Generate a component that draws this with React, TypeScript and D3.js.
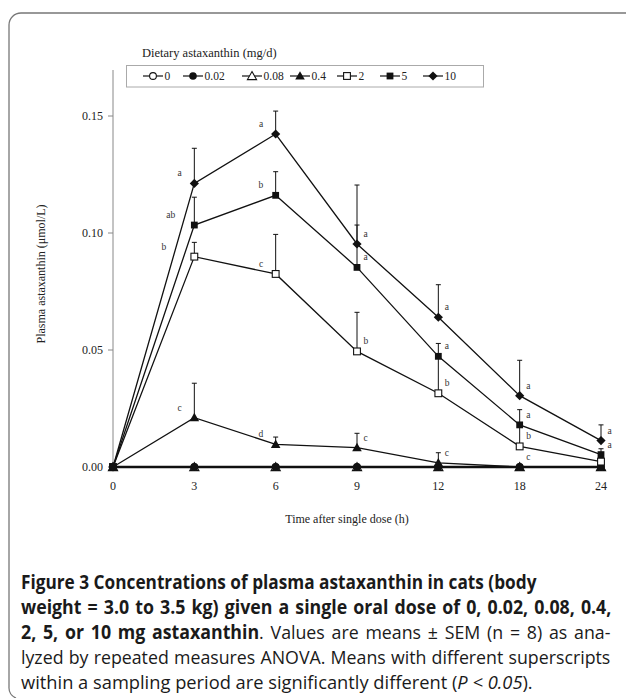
import React, { useMemo } from 'react';
import * as d3 from 'd3';

// ---------- data ----------
const timeLabels = ["0", "3", "6", "9", "12", "18", "24"];
const yTicks = [0, 0.05, 0.10, 0.15];
const doseLabels = ["0", "0.02", "0.08", "0.4", "2", "5", "10"];

const dose0 = [0, 0, 0, 0, 0, 0, 0];
const dose002 = [0, 0, 0, 0, 0, 0, 0];
const dose008 = [0, 0, 0, 0, 0, 0, 0];
const dose04 = [0, 0.0211, 0.0097, 0.0083, 0.0018, 0, 0];
const dose2 = [0, 0.0899, 0.0825, 0.0494, 0.0315, 0.0088, 0.0023];
const dose5 = [0, 0.1034, 0.1161, 0.0853, 0.0473, 0.0180, 0.0053];
const dose10 = [0, 0.1212, 0.1423, 0.0953, 0.0640, 0.0305, 0.0113];

const sem0 = [0, 0, 0, 0, 0, 0, 0];
const sem04 = [0, 0.0147, 0.0031, 0.0061, 0.0043, 0, 0];
const sem2 = [0, 0.0061, 0.0169, 0.0167, 0.0170, 0.0095, 0.0010];
const sem5 = [0, 0.0119, 0.0101, 0.0181, 0.0055, 0.0065, 0.0025];
const sem10 = [0, 0.0150, 0.0098, 0.0252, 0.0139, 0.0151, 0.0067];

const letters0 = ["", "", "", "", "", "", ""];
const letters04 = ["", "c", "d", "c", "c", "c", ""];
const letters2 = ["", "b", "c", "b", "b", "b", ""];
const letters5 = ["", "ab", "b", "a", "a", "a", "a"];
const letters10 = ["", "a", "a", "a", "a", "a", "a"];

// caption lines: segments of [text, style]
type Seg = [string, 'b' | 'r' | 'i'];
const captionLines: Seg[][] = [
  [["Figure 3 Concentrations of plasma astaxanthin in cats (body", 'b']],
  [["weight = 3.0 to 3.5 kg) given a single oral dose of 0, 0.02, 0.08, 0.4,", 'b']],
  [["2, 5, or 10 mg astaxanthin", 'b'], [". Values are means \u00b1 SEM (n = 8) as ana-", 'r']],
  [["lyzed by repeated measures ANOVA. Means with different superscripts", 'r']],
  [["within a sampling period are significantly different (", 'r'], ["P < 0.05", 'i'], [").", 'r']],
];

type Shape = 'circleOpen' | 'circle' | 'triOpen' | 'tri' | 'sqOpen' | 'sq' | 'diamond';

const series: { label: string; values: number[]; sem: number[]; letters: string[]; shape: Shape }[] = [
  { label: doseLabels[2], values: dose008, sem: sem0, letters: letters0, shape: 'triOpen' },
  { label: doseLabels[3], values: dose04, sem: sem04, letters: letters04, shape: 'tri' },
  { label: doseLabels[0], values: dose0, sem: sem0, letters: letters0, shape: 'circleOpen' },
  { label: doseLabels[1], values: dose002, sem: sem0, letters: letters0, shape: 'circle' },
  { label: doseLabels[4], values: dose2, sem: sem2, letters: letters2, shape: 'sqOpen' },
  { label: doseLabels[5], values: dose5, sem: sem5, letters: letters5, shape: 'sq' },
  { label: doseLabels[6], values: dose10, sem: sem10, letters: letters10, shape: 'diamond' },
];

const legendShapes: Shape[] = ['circleOpen', 'circle', 'triOpen', 'tri', 'sqOpen', 'sq', 'diamond'];

// ---------- layout ----------
const W = 628, H = 698;
const x = d3.scalePoint<string>().domain(timeLabels).range([113, 601]);
const y = d3.scaleLinear().domain([0, 0.17]).range([467, 69.2]);

const serif = "'Liberation Serif', 'Times New Roman', serif";
const sansName = "'Open Sans'";
const sans = "'Open Sans', 'Noto Sans', sans-serif";
const CAP_SIZE = 19;

function Marker({ shape, cx, cy }: { shape: Shape; cx: number; cy: number }) {
  const stroke = '#111';
  switch (shape) {
    case 'circleOpen':
      return <circle cx={cx} cy={cy} r={3.4} fill="#fff" stroke={stroke} strokeWidth={1.1} />;
    case 'circle':
      return <circle cx={cx} cy={cy} r={3.8} fill={stroke} />;
    case 'triOpen':
      return <path d={`M${cx},${cy - 4.5}L${cx + 4.6},${cy + 3.6}L${cx - 4.6},${cy + 3.6}Z`} fill="#fff" stroke={stroke} strokeWidth={1.1} />;
    case 'tri':
      return <path d={`M${cx},${cy - 4.8}L${cx + 4.8},${cy + 3.6}L${cx - 4.8},${cy + 3.6}Z`} fill={stroke} />;
    case 'sqOpen':
      return <rect x={cx - 3.4} y={cy - 3.4} width={6.8} height={6.8} fill="#fff" stroke={stroke} strokeWidth={1.1} />;
    case 'sq':
      return <rect x={cx - 3.4} y={cy - 3.4} width={6.8} height={6.8} fill={stroke} />;
    case 'diamond':
      return <path d={`M${cx},${cy - 4.6}L${cx + 4.6},${cy}L${cx},${cy + 4.6}L${cx - 4.6},${cy}Z`} fill={stroke} />;
  }
}

// place a left-side letter clear of other series' incoming segments
function leftLabelEnd(si: number, i: number, ly: number, px: number): number {
  const xs: number[] = [];
  const x0 = x(timeLabels[i - 1]) as number;
  series.forEach((s, k) => {
    if (k === si) return;
    const ya = y(s.values[i - 1]);
    const yb = y(s.values[i]);
    if ((ly - ya) * (ly - yb) < 0) {
      const cx = x0 + (px - x0) * (ly - ya) / (yb - ya);
      if (cx > px - 40 && cx < px - 1) xs.push(cx);
    }
  });
  return xs.length ? Math.min(...xs) - 10 : px - 12.5;
}

const CAP_X = 21;
const capEnds = [537, 612, 611, 611, 533];
const capJustify = [false, true, true, true, false];
const capY = [589, 614, 639, 664, 689];

function fontFor(st: 'b' | 'r' | 'i') {
  const w = st === 'b' ? 700 : 400;
  const s = st === 'i' ? 'italic ' : '';
  return `${s}${w} ${CAP_SIZE}px ${sansName}`;
}

export default function App() {
  const line = d3.line<number>().x((_, i) => x(timeLabels[i]) as number).y(v => y(v));
  const legendX = [153, 193, 252, 300, 347, 390, 433];

  const capLayout = useMemo(() => {
    const ctx = document.createElement('canvas').getContext('2d');
    const widths = captionLines.map(segs => segs.reduce((acc, [t, st]) => {
      if (!ctx) return acc + t.length * 8;
      ctx.font = fontFor(st);
      return acc + ctx.measureText(t).width;
    }, 0));
    const natScales = widths.map((w, i) => (capEnds[i] - CAP_X) / w);
    const f = (natScales[0] + natScales[4]) / 2;
    return captionLines.map((segs, i) => {
      if (!capJustify[i]) return { scale: natScales[i], ws: 0 };
      const spaces = segs.reduce((a, [t]) => a + (t.match(/ /g) || []).length, 0);
      let ws = ((capEnds[i] - CAP_X) / f - widths[i]) / Math.max(1, spaces);
      let scale = f;
      if (ws < 0 || ws > 3) { ws = Math.max(0, Math.min(3, ws)); scale = (capEnds[i] - CAP_X) / (widths[i] + ws * spaces); }
      return { scale, ws };
    });
  }, []);

  return (
    <svg width={W} height={H} style={{ position: 'absolute', left: 0, top: 0, background: '#fff' }}
      xmlns="http://www.w3.org/2000/svg">
      <rect x={0} y={0} width={W} height={H} fill="#fff" />
      {/* frame */}
      <path d="M626,13 H21 A12,12 0 0 0 9,25 V687 A11,11 0 0 0 16,698" fill="none" stroke="#777" strokeWidth={1.3} />

      {/* legend */}
      <text x={142} y={57} fontFamily={serif} fontSize={12.5} fill="#222">Dietary astaxanthin (mg/d)</text>
      <rect x={126.5} y={65.5} width={357} height={21.5} fill="#fff" stroke="#aaa" strokeWidth={1} />
      {legendShapes.map((s, i) => (
        <g key={i}>
          <line x1={legendX[i] - 10} x2={legendX[i] + 10} y1={76} y2={76} stroke="#111" strokeWidth={1.2} />
          <Marker shape={s} cx={legendX[i]} cy={76} />
          <text x={legendX[i] + 11.5} y={80} fontFamily={serif} fontSize={11.5} fill="#222">{doseLabels[i]}</text>
        </g>
      ))}

      {/* y axis */}
      <line x1={113} x2={113} y1={70} y2={467} stroke="#888" strokeWidth={1} />
      {yTicks.map(t => (
        <g key={t}>
          <line x1={108} x2={113} y1={y(t)} y2={y(t)} stroke="#888" strokeWidth={1} />
          <text x={103} y={y(t) + 4} textAnchor="end" fontFamily={serif} fontSize={12} fill="#222">{t.toFixed(2)}</text>
        </g>
      ))}
      <text transform={`translate(45,274) rotate(-90)`} textAnchor="middle" fontFamily={serif} fontSize={12} fill="#222">Plasma astaxanthin (μmol/L)</text>

      {/* x axis */}
      <line x1={113} x2={601} y1={467} y2={467} stroke="#111" strokeWidth={2.4} />
      {timeLabels.map(t => (
        <text key={t} x={x(t) as number} y={490} textAnchor="middle" fontFamily={serif} fontSize={12} fill="#222">{t}</text>
      ))}
      <text x={347} y={523} textAnchor="middle" fontFamily={serif} fontSize={12} fill="#222">Time after single dose (h)</text>

      {/* series lines */}
      {series.map((s, si) => (
        <path key={si} d={line(s.values) || ''} fill="none" stroke="#111" strokeWidth={1.3} />
      ))}
      {/* error bars */}
      {series.map((s, si) => s.values.map((v, i) => {
        if (!s.sem[i]) return null;
        const cx = x(timeLabels[i]) as number;
        const top = y(v + s.sem[i]);
        return (
          <g key={`e${si}-${i}`}>
            <line x1={cx} x2={cx} y1={y(v)} y2={top} stroke="#111" strokeWidth={1} />
            <line x1={cx - 2.5} x2={cx + 2.5} y1={top} y2={top} stroke="#111" strokeWidth={1} />
          </g>
        );
      }))}
      {/* markers */}
      {series.map((s, si) => s.values.map((v, i) => (
        <Marker key={`m${si}-${i}`} shape={s.shape} cx={x(timeLabels[i]) as number} cy={y(v)} />
      )))}
      {/* significance letters */}
      {series.map((s, si) => s.values.map((v, i) => {
        const l = s.letters[i];
        if (!l) return null;
        const cx = x(timeLabels[i]) as number;
        const left = i <= 2;
        const ly = y(v) - 10;
        const lx = left ? leftLabelEnd(si, i, ly, cx) : cx + 6.5;
        return (
          <text key={`l${si}-${i}`} x={lx} y={ly + 3}
            textAnchor={left ? 'end' : 'start'} fontFamily={serif} fontSize={9.5} fill="#333">{l}</text>
        );
      }))}

      {/* caption */}
      <g fontFamily={sans} fontSize={CAP_SIZE} fill="#1a1a1a">
        {captionLines.map((segs, li) => (
          <text key={li} x={CAP_X} y={capY[li]}
            transform={`translate(${CAP_X},0) scale(${capLayout[li].scale},1) translate(${-CAP_X},0)`}
            style={{ wordSpacing: `${capLayout[li].ws}px`, whiteSpace: 'pre' }}>
            {segs.map(([t, st], k) => (
              <tspan key={k} fontWeight={st === 'b' ? 700 : 400} fontStyle={st === 'i' ? 'italic' : 'normal'}>{t}</tspan>
            ))}
          </text>
        ))}
      </g>
    </svg>
  );
}
